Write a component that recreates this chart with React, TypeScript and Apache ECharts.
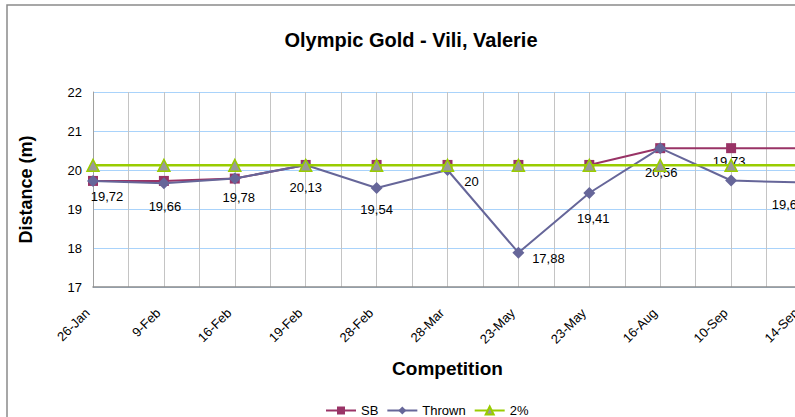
import React, { useEffect, useRef } from "react";
import * as echarts from "echarts";

const categories = ["26-Jan", "9-Feb", "16-Feb", "19-Feb", "28-Feb", "28-Mar", "23-May", "23-May ", "16-Aug", "10-Sep", "14-Sep"];
const sbValues = [19.72, 19.72, 19.78, 20.13, 20.13, 20.13, 20.13, 20.13, 20.56, 20.56, 20.56];
const thrownValues = [19.72, 19.66, 19.78, 20.13, 19.54, 20, 17.88, 19.41, 20.56, 19.73, 19.68];
const twoPctValues = [20.12, 20.12, 20.12, 20.12, 20.12, 20.12, 20.12, 20.12, 20.12, 20.12, 20.12];
const yTicks = { min: 17, max: 22, interval: 1 };

// label placement offsets for Thrown data labels (styling)
const thrownLabelOffsets: [number, number][] = [
  [14, 16], [1, 23], [4, 19], [0, 23], [0, 22], [24, 11], [30, 6], [4, 25], [1, 24], [-2, -19], [-14, 22],
];

const FONT = "Liberation Sans, Arial, Helvetica, sans-serif";

export default function App() {
  const ref = useRef<HTMLDivElement>(null);
  useEffect(() => {
    if (!ref.current) return;
    const chart = echarts.init(ref.current, null, { renderer: "svg" });
    const halfCats: string[] = [];
    for (let i = 0; i < categories.length * 2 - 1; i++) halfCats.push("h" + i);

    chart.setOption({
      animation: false,
      backgroundColor: "#ffffff",
      textStyle: { fontFamily: FONT },
      title: {
        text: "Olympic Gold - Vili, Valerie",
        left: 406,
        textAlign: "center",
        top: 25,
        textStyle: { fontFamily: FONT, fontSize: 20, fontWeight: "bold", color: "#000" },
      },
      graphic: [
        {
          type: "rect",
          shape: { x: 7, y: 5, width: 900, height: 500 },
          style: { fill: "none", stroke: "#8a8a8a", lineWidth: 1.5 },
          silent: true,
          z: -10,
        },
      ],
      legend: {
        left: 320,
        top: 399,
        itemWidth: 30,
        itemHeight: 10,
        itemGap: 8,
        textStyle: { fontFamily: FONT, fontSize: 13, color: "#000" },
        data: ["SB", "Thrown", "2%"],
      },
      grid: { left: 93, top: 92, width: 709, height: 195, containLabel: false },
      xAxis: [
        {
          type: "category",
          data: categories,
          boundaryGap: false,
          name: "Competition",
          nameLocation: "middle",
          nameGap: 72,
          nameTextStyle: { fontFamily: FONT, fontSize: 19, fontWeight: "bold", color: "#000" },
          axisLine: { lineStyle: { color: "#8c8c8c", width: 1.5 } },
          axisTick: { show: false },
          axisLabel: {
            rotate: 45,
            margin: 18,
            fontSize: 13,
            padding: [0, 8, 0, 0],
            color: "#000",
            fontFamily: FONT,
            interval: 0,
            formatter: (v: string) => v.trim(),
          },
          splitLine: { show: false },
        },
        {
          type: "category",
          data: halfCats,
          boundaryGap: false,
          position: "bottom",
          axisLine: { show: false },
          axisTick: { show: false },
          axisLabel: { show: false },
          splitLine: { show: true, interval: 0, lineStyle: { color: "#c4c4c4", width: 1 } },
        },
      ],
      yAxis: {
        type: "value",
        min: yTicks.min,
        max: yTicks.max,
        interval: yTicks.interval,
        name: "Distance (m)",
        nameLocation: "middle",
        nameRotate: 90,
        nameGap: 58,
        nameTextStyle: { fontFamily: FONT, fontSize: 18, fontWeight: "bold", color: "#000" },
        axisLine: { show: true, lineStyle: { color: "#a0a0a0", width: 1 } },
        axisTick: { show: false },
        axisLabel: { margin: 11, fontSize: 13, color: "#000", fontFamily: FONT },
        splitLine: { show: true, lineStyle: { color: "#a9d3fb", width: 1 } },
      },
      series: [
        {
          name: "SB",
          type: "line",
          data: sbValues,
          symbol: "rect",
          symbolSize: 10,
          lineStyle: { color: "#993366", width: 2 },
          itemStyle: { color: "#993366" },
          z: 2,
        },
        {
          name: "Thrown",
          type: "line",
          data: thrownValues.map((v, i) => ({
            value: v,
            label: {
              offset: thrownLabelOffsets[i],
            },
          })),
          symbol: "diamond",
          symbolSize: 12,
          lineStyle: { color: "#666699", width: 2 },
          itemStyle: { color: "#666699" },
          label: {
            show: true,
            position: ["50%", "50%"],
            align: "center",
            verticalAlign: "middle",
            fontSize: 13,
            color: "#000",
            fontFamily: FONT,
            formatter: (p: any) => String(p.value).replace(".", ","),
          },
          z: 3,
        },
        {
          name: "2%",
          type: "line",
          data: twoPctValues,
          symbol: "triangle",
          symbolSize: 12,
          lineStyle: { color: "#99CC00", width: 2.5 },
          itemStyle: { color: "#999999", borderColor: "#99CC00", borderWidth: 1.5 },
          z: 4,
        },
      ],
    });
    return () => chart.dispose();
  }, []);
  return (
    <div style={{ position: "absolute", left: 0, top: 0, width: 795, height: 417, overflow: "hidden" }}>
      <div ref={ref} style={{ width: 830, height: 417 }} />
    </div>
  );
}
